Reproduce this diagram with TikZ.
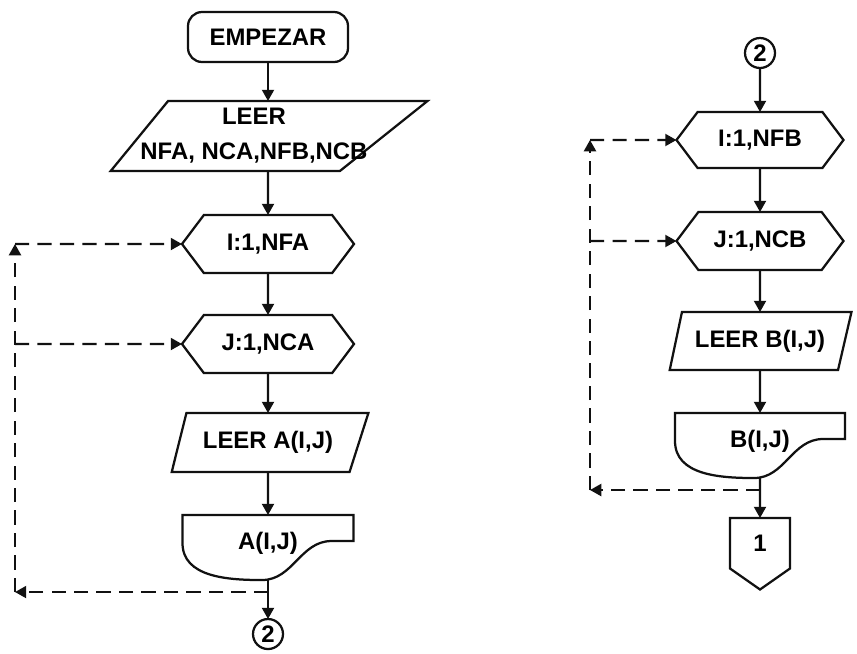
\documentclass[tikz,border=0pt]{standalone}
\usepackage{fontspec}
\setmainfont{Liberation Sans}
\usepackage{tikz}
\usetikzlibrary{arrows.meta,positioning,shapes.geometric,shapes.symbols}
\definecolor{ink}{HTML}{111111}
\tikzset{
  terminal/.style={
    rectangle,
    rounded corners=10pt,
    draw=ink,
    line width=1.6pt,
    outer sep=0pt,
    align=center,
    minimum height=1.25cm,
    minimum width=4.0cm,
    font=\bfseries\fontsize{17}{25}\selectfont
  },
  readbox/.style={
    trapezium,
    trapezium stretches=true,
    draw=ink,
    line width=1.6pt,
    outer sep=0pt,
    align=center,
    inner xsep=2pt,
    inner ysep=1pt,
    font=\bfseries\fontsize{17}{25}\selectfont
  },
  loopbox/.style={
    signal,
    signal to=west and east,
    signal pointer angle=106,
    draw=ink,
    line width=1.6pt,
    outer sep=0pt,
    align=center,
    minimum height=1.45cm,
    minimum width=4.3cm,
    font=\bfseries\fontsize{17}{25}\selectfont
  },
  docbox/.style={
    rectangle,
    outer sep=0pt,
    align=center,
    text depth=9pt,
    minimum height=1.625cm,
    minimum width=4.275cm,
    font=\bfseries\fontsize{17}{25}\selectfont
  },
  joint/.style={
    circle,
    draw=ink,
    line width=1.6pt,
    outer sep=0pt,
    inner sep=0pt,
    minimum size=0.75cm,
    font=\bfseries\fontsize{17}{25}\selectfont
  },
  offpage/.style={
    signal,
    signal to=south,
    signal from=nowhere,
    signal pointer angle=110,
    draw=ink,
    line width=1.6pt,
    outer sep=0pt,
    minimum width=1.5cm,
    minimum height=1.46cm,
    font=\bfseries\fontsize{17}{25}\selectfont
  },
  outline/.style={draw=ink, line width=1.6pt},
  line/.style={-{Triangle[length=8pt,width=8.5pt]}, line width=1.6pt, draw=ink},
  loopline/.style={-{Triangle[length=8pt,width=8.5pt]}, line width=1.6pt, draw=ink,
    dash pattern=on 10pt off 6pt}
}
% printed-document symbol drawn around a plain node
\newcommand{\docoutline}[1]{%
  \draw[outline] (#1.north west) -- (#1.north east)
    -- ([yshift=-0.65cm]#1.north east)
    -- ([xshift=-0.55cm,yshift=-0.65cm]#1.north east)
    to[out=180,in=0] ([xshift=-0.15cm]#1.south)
    to[out=180,in=-90] ([yshift=-0.7cm]#1.north west) -- cycle;}

\begin{document}
\begin{tikzpicture}
  \useasboundingbox (0,0) rectangle (21.425,-16.325);

  % matrix A
  \node[terminal] (start) at (6.7,-0.925) {EMPEZAR};
  \node[readbox, trapezium left angle=53, trapezium right angle=139,
    inner xsep=-1.2cm, minimum height=1.75cm, minimum width=7.925cm,
    below=0.975cm of start, xshift=-0.35cm] (sizes) {LEER\\NFA, NCA,NFB,NCB};
  \node[loopbox, below=1.1cm of sizes.south -| start] (loopI) {I:1,NFA};
  \node[loopbox, below=1.05cm of loopI] (loopJ) {J:1,NCA};
  \node[readbox, trapezium left angle=64, trapezium right angle=122,
    minimum height=1.475cm, minimum width=4.925cm, below=1.0cm of loopJ] (readA)
    {LEER A(I,J)};
  \node[docbox, below=1.075cm of readA] (showA) {A(I,J)};
  \docoutline{showA}
  \node[joint, below=0.975cm of showA] (jointA) {2};

  \draw[line] (start) -- (start |- sizes.north);
  \draw[line] (start |- sizes.south) -- (loopI);
  \draw[line] (loopI) -- (loopJ);
  \draw[line] (loopJ) -- (readA);
  \draw[line] (readA) -- (showA);
  \draw[line] (showA) -- (jointA);

  \coordinate[below=0.3cm of showA.south] (backA);
  \coordinate (railA) at (0.375,-6.175);
  \draw[loopline] (backA) -- (railA |- backA);
  \draw[loopline] (railA |- backA) -- (railA |- loopI);
  \draw[loopline] (railA |- loopI) -- (loopI);
  \draw[loopline] (railA |- loopJ) -- (loopJ);

  % matrix B
  \node[joint] (jointB) at (19.0,-1.325) {2};
  \node[loopbox, minimum width=4.175cm, minimum height=1.4cm,
    below=1.1cm of jointB] (loopIB) {I:1,NFB};
  \node[loopbox, minimum width=4.175cm, below=1.1cm of loopIB] (loopJB) {J:1,NCB};
  \node[readbox, trapezium left angle=67, trapezium right angle=115,
    minimum height=1.45cm, minimum width=4.55cm, below=1.05cm of loopJB] (readB)
    {LEER B(I,J)};
  \node[docbox, minimum width=4.25cm, below=1.075cm of readB] (showB) {B(I,J)};
  \docoutline{showB}
  \node[offpage, below=1.0cm of showB] (page1) {1};

  \draw[line] (jointB) -- (loopIB);
  \draw[line] (loopIB) -- (loopJB);
  \draw[line] (loopJB) -- (readB);
  \draw[line] (readB) -- (showB);
  \draw[line] (showB) -- (page1);

  \coordinate[below=0.3cm of showB.south] (backB);
  \coordinate (railB) at (14.75,-3.5);
  \draw[loopline] (backB) -- (railB |- backB);
  \draw[loopline] (railB |- backB) -- (railB |- loopIB);
  \draw[loopline] (railB |- loopIB) -- (loopIB);
  \draw[loopline] (railB |- loopJB) -- (loopJB);
\end{tikzpicture}
\end{document}
